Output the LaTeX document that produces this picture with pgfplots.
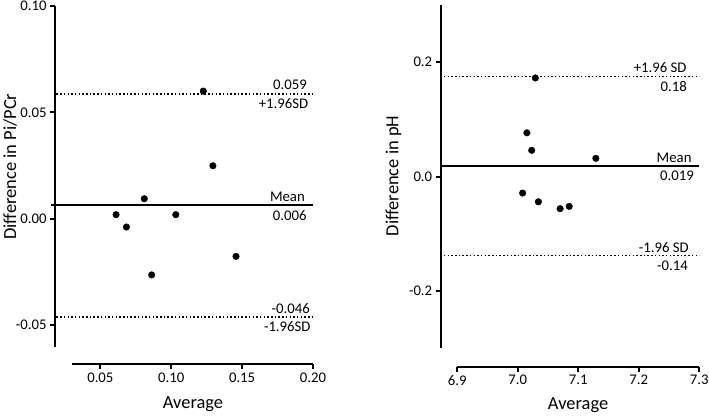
\documentclass[border=0pt]{standalone}
\usepackage{fontspec}
\setmainfont{Carlito}
\usepackage{pgfplots}
\pgfplotsset{compat=1.18}
\pgfplotsset{
  ba/.style={
    scale only axis,
    axis lines=left,
    axis line style={-, line width=2bp},
    every tick/.style={black, line width=1.8bp},
    tick align=outside,
    major tick length=5bp,
    minor tick num=0,
    scaled ticks=false,
    clip=false,
    font=\fontsize{14.8}{17}\selectfont,
    /pgf/number format/assume math mode=true,
    label style={font=\fontsize{18.5}{22}\selectfont},
  },
}
\tikzset{ann/.style={inner sep=0pt, font=\fontsize{14.8}{17}\selectfont}}
\begin{document}
\begin{tikzpicture}
\path[use as bounding box] (-72bp,-71bp) rectangle (637bp,347bp);
% Left panel: Pi/PCr
\begin{axis}[ba, at={(0bp,0bp)}, anchor=south west,
  width=241bp, height=341bp,
  xmin=0.03, xmax=0.20, ymin=-0.0603, ymax=0.10,
  xtick={0.05,0.10,0.15,0.20}, ytick={-0.05,0,0.05,0.10},
  xticklabel style={/pgf/number format/fixed, /pgf/number format/fixed zerofill, /pgf/number format/precision=2},
  yticklabel style={/pgf/number format/fixed, /pgf/number format/fixed zerofill, /pgf/number format/precision=2},
  axis x line shift=17bp, axis y line shift=17bp,
  xlabel={Average}, ylabel={Difference in Pi/PCr},
  xlabel style={at={(axis description cs:0.502,-0.167)}, anchor=center},
  ylabel style={at={(axis description cs:-0.257,0.529)}, anchor=center},
]
\addplot[black, line width=1.6bp, dash pattern=on 1.5bp off 2.2bp] coordinates {(0.019,0.0587) (0.20,0.0587)};
\addplot[black, line width=2bp] coordinates {(0.0151,0.0063) (0.20,0.0063)};
\addplot[black, line width=1.6bp, dash pattern=on 1.5bp off 2.2bp] coordinates {(0.019,-0.0463) (0.20,-0.0463)};
\addplot[only marks, mark=*, mark size=3.3bp, black] coordinates {
  (0.0611,0.0019) (0.0684,-0.0039) (0.0810,0.0094) (0.0862,-0.0264)
  (0.1032,0.0019) (0.1226,0.0600) (0.1294,0.0249) (0.1457,-0.0177)};
\node[ann, anchor=base east, xshift=-6bp, yshift=4bp] at (axis cs:0.20,0.0587) {0.059};
\node[ann, anchor=north east, xshift=-4.7bp, yshift=-4bp] at (axis cs:0.20,0.0587) {+1.96SD};
\node[ann, anchor=base east, xshift=-8bp, yshift=3.4bp] at (axis cs:0.20,0.0063) {Mean};
\node[ann, anchor=north east, xshift=-6.3bp, yshift=-5bp] at (axis cs:0.20,0.0063) {0.006};
\node[ann, anchor=base east, xshift=-3bp, yshift=3.7bp] at (axis cs:0.20,-0.0463) {-0.046};
\node[ann, anchor=north east, xshift=-2.3bp, yshift=-4bp] at (axis cs:0.20,-0.0463) {-1.96SD};
\end{axis}
% Right panel: pH
\begin{axis}[ba, at={(385.3bp,-1.3bp)}, anchor=south west,
  width=242bp, height=343.3bp,
  xmin=6.9, xmax=7.3, ymin=-0.3, ymax=0.3,
  xtick={6.9,7.0,7.1,7.2,7.3}, ytick={-0.2,0,0.2},
  xticklabel style={/pgf/number format/fixed, /pgf/number format/fixed zerofill, /pgf/number format/precision=1},
  yticklabel style={/pgf/number format/fixed, /pgf/number format/fixed zerofill, /pgf/number format/precision=1},
  axis x line shift=18.4bp, axis y line shift=16.6bp,
  xlabel={Average}, ylabel={Difference in pH},
  xlabel style={at={(axis description cs:0.499,-0.165)}, anchor=center},
  ylabel style={at={(axis description cs:-0.264,0.502)}, anchor=center},
]
\addplot[black, line width=1.6bp, dash pattern=on 1.5bp off 2.2bp] coordinates {(6.878,0.175) (7.30,0.175)};
\addplot[black, line width=2bp] coordinates {(6.8726,0.019) (7.30,0.019)};
\addplot[black, line width=1.6bp, dash pattern=on 1.5bp off 2.2bp] coordinates {(6.878,-0.138) (7.30,-0.138)};
\addplot[only marks, mark=*, mark size=3.3bp, black] coordinates {
  (7.029,0.1725) (7.015,0.0766) (7.023,0.046) (7.129,0.032)
  (7.008,-0.0287) (7.034,-0.0439) (7.070,-0.056) (7.085,-0.052)};
\node[ann, anchor=base east, xshift=-12.6bp, yshift=4bp] at (axis cs:7.30,0.175) {+1.96 SD};
\node[ann, anchor=north east, xshift=-12.3bp, yshift=-5bp] at (axis cs:7.30,0.175) {0.18};
\node[ann, anchor=base east, xshift=-7.6bp, yshift=3.3bp] at (axis cs:7.30,0.019) {Mean};
\node[ann, anchor=north east, xshift=-5.3bp, yshift=-4.7bp] at (axis cs:7.30,0.019) {0.019};
\node[ann, anchor=base east, xshift=-10.3bp, yshift=3.6bp] at (axis cs:7.30,-0.138) {-1.96 SD};
\node[ann, anchor=north east, xshift=-11.3bp, yshift=-4.7bp] at (axis cs:7.30,-0.138) {-0.14};
\end{axis}
\end{tikzpicture}
\end{document}
